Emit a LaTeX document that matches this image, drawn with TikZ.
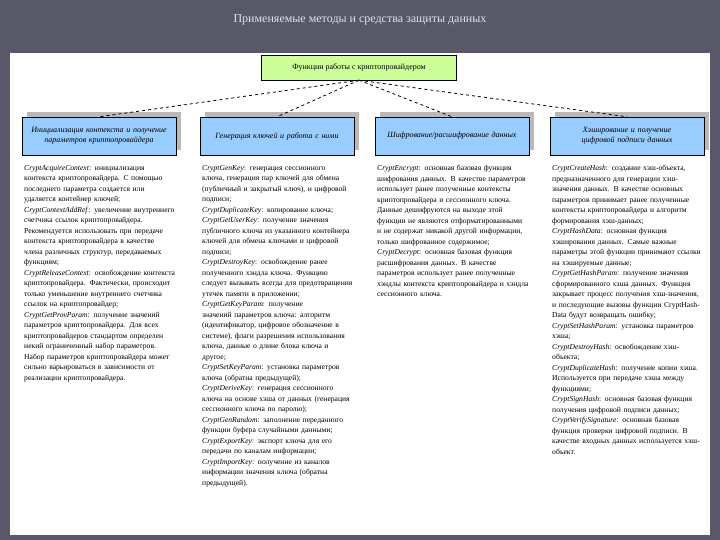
\documentclass[tikz,border=0pt]{standalone}
\usepackage{fontspec}
\setmainfont{Liberation Serif}
\begin{document}
\begin{tikzpicture}[x=1pt,y=-1pt,
  hbox/.style={draw=black,fill={rgb,255:red,153;green,204;blue,255},minimum width=154pt,minimum height=38pt,align=center,text width=140pt,font=\fontsize{8}{10}\selectfont\itshape},
  shadowbox/.style={fill=gray!55,minimum width=154pt,minimum height=38pt},
  col/.style={anchor=north west,text width=152pt,align=left,inner sep=0pt,font=\fontsize{7.6}{10.5}\selectfont},
  conn/.style={dashed,thick}]
\useasboundingbox (0,0) rectangle (720,540);
\fill[fill={rgb,255:red,88;green,88;blue,104}] (0,0) rectangle (720,540);
\fill[white] (10,53) rectangle (710,535);
\node[text={rgb,255:red,225;green,225;blue,235},font=\fontsize{12}{14}\selectfont] (title) at (360,20) {Применяемые методы и средства защиты данных};
\node[draw=black,fill={rgb,255:red,204;green,255;blue,153},minimum width=195pt,minimum height=25pt,font=\fontsize{8}{10}\selectfont] (top) at (359,67.5) {Функции работы с криптопровайдером};
\foreach \x in {99,277,452,627}{
  \node[shadowbox] at (\x+5,131) {};
}
\node[hbox] (a) at (99,136) {Инициализация контекста и получение параметров криптопровайдера};
\node[hbox] (b) at (277,136) {Генерация ключей и работа с ними};
\node[hbox] (c) at (452,136) {Шифрование/расшифрование данных};
\node[hbox] (d) at (627,136) {Хэширование и получение цифровой подписи данных};
\foreach \n in {a,b,c,d}{\draw[conn] (top.south) -- (\n.north);}
\node[col] (ta) at (24,165) {\textit{CryptAcquireContext}: инициализация контекста криптопровайдера. С помощью последнего параметра создается или удаляется контейнер ключей;\\
\textit{CryptContextAddRef}: увеличение внутреннего счетчика ссылок криптопровайдера. Рекомендуется использовать при передаче контекста криптопровайдера в качестве члена различных структур, передаваемых функциям;\\
\textit{CryptReleaseContext}: освобождение контекста криптопровайдера. Фактически, происходит только уменьшение внутреннего счетчика ссылок на криптопровайдер;\\
\textit{CryptGetProvParam}: получение значений параметров криптопровайдера. Для всех криптопровайдеров стандартом определен некий ограниченный набор параметров. Набор параметров криптопровайдера может сильно варьироваться в зависимости от реализации криптопровайдера.};
\node[col] (tb) at (202,165) {\textit{CryptGenKey}: генерация сессионного ключа, генерация пар ключей для обмена (публичный и закрытый ключ), и цифровой подписи;\\
\textit{CryptDuplicateKey}: копирование ключа;\\
\textit{CryptGetUserKey}: получение значения публичного ключа из указанного контейнера ключей для обмена ключами и цифровой подписи;\\
\textit{CryptDestroyKey}: освобождение ранее полученного хэндла ключа. Функцию следует вызывать всегда для предотвращения утечек памяти в приложении;\\
\textit{CryptGetKeyParam}: получение значений параметров ключа: алгоритм (идентификатор, цифровое обозначение в системе), флаги разрешения использования ключа, данные о длине блока ключа и другое;\\
\textit{CryptSetKeyParam}: установка параметров ключа (обратна предыдущей);\\
\textit{CryptDeriveKey}: генерация сессионного ключа на основе хэша от данных (генерация сессионного ключа по паролю);\\
\textit{CryptGenRandom}: заполнение переданного функции буфера случайными данными;\\
\textit{CryptExportKey}: экспорт ключа для его передачи по каналам информации;\\
\textit{CryptImportKey}: получение из каналов информации значения ключа (обратна предыдущей).};
\node[col] (tc) at (377,165) {\textit{CryptEncrypt}: основная базовая функция шифрования данных. В качестве параметров использует ранее полученные контексты криптопровайдера и сессионного ключа. Данные дешифруются на выходе этой функции не являются отформатированными и не содержат никакой другой информации, только шифрованное содержимое;\\
\textit{CryptDecrypt}: основная базовая функция расшифрования данных. В качестве параметров использует ранее полученные хэндлы контекста криптопровайдера и хэндла сессионного ключа.};
\node[col] (td) at (552,165) {\textit{CryptCreateHash}: создание хэш-объекта, предназначенного для генерации хэш-значения данных. В качестве основных параметров принимает ранее полученные контексты криптопровайдера и алгоритм формирования хэш-данных;\\
\textit{CryptHashData}: основная функция хэширования данных. Самые важные параметры этой функции принимают ссылки на хэшируемые данные;\\
\textit{CryptGetHashParam}: получение значения сформированного хэша данных. Функция закрывает процесс получения хэш-значения, и последующие вызовы функции CryptHashData будут возвращать ошибку;\\
\textit{CryptSetHashParam}: установка параметров хэша;\\
\textit{CryptDestroyHash}: освобождение хэш-объекта;\\
\textit{CryptDuplicateHash}: получение копии хэша. Используется при передаче хэша между функциями;\\
\textit{CryptSignHash}: основная базовая функция получения цифровой подписи данных;\\
\textit{CryptVerifySignature}: основная базовая функция проверки цифровой подписи. В качестве входных данных используется хэш-объект.};
\end{tikzpicture}
\end{document}
